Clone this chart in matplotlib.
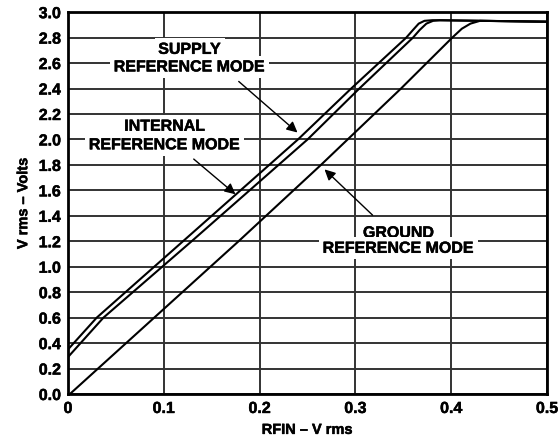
import numpy as np
import matplotlib.pyplot as plt
import matplotlib.patheffects as pe

plt.rcParams['font.family'] = ['Liberation Sans', 'DejaVu Sans']
plt.rcParams['font.weight'] = 'bold'

# curves (RFIN in V rms, output in V rms)
supply_x = [0, 0.030, 0.120, 0.240, 0.2955, 0.353, 0.360, 0.366, 0.372, 0.380, 0.5]
supply_y = [0.35, 0.60, 1.20, 2.00, 2.40, 2.80, 2.86, 2.91, 2.932, 2.937, 2.925]
internal_x = [0, 0.037, 0.129, 0.250, 0.304, 0.360, 0.367, 0.374, 0.381, 0.388, 0.5]
internal_y = [0.29, 0.60, 1.20, 2.00, 2.40, 2.80, 2.86, 2.91, 2.932, 2.937, 2.925]
ground_x = [0.002, 0.090, 0.178, 0.264, 0.3475, 0.401, 0.411, 0.420, 0.430, 0.5]
ground_y = [0, 0.60, 1.20, 1.80, 2.40, 2.80, 2.87, 2.91, 2.932, 2.925]

# label lines: (text, x, y)
label_lines = [
    ('SUPPLY', 0.127, 2.708), ('REFERENCE MODE', 0.127, 2.570),
    ('INTERNAL', 0.101, 2.104), ('REFERENCE MODE', 0.101, 1.958),
    ('GROUND', 0.345, 1.266), ('REFERENCE MODE', 0.345, 1.145),
]
# arrows: (head, tail)
arrows = [
    ((0.2417, 2.04), (0.176, 2.47)),
    ((0.177, 1.555), (0.129, 1.86)),
    ((0.2656, 1.78), (0.320, 1.39)),
]

fig = plt.figure(figsize=(5.6, 4.39), dpi=100)
ax = fig.add_axes([0.1214, 0.1002, 0.8556, 0.8698])

for xs, ys in [(supply_x, supply_y), (internal_x, internal_y), (ground_x, ground_y)]:
    ax.plot(xs, ys, color='black', lw=1.5, zorder=3, solid_joinstyle='round')

ax.set_xlim(0, 0.5)
ax.set_ylim(0, 3.0)
ax.set_xticks(np.arange(0, 0.51, 0.1))
ax.set_xticklabels(['0', '0.1', '0.2', '0.3', '0.4', '0.5'])
ax.set_yticks(np.arange(0, 3.01, 0.2))
ax.set_yticklabels(['%.1f' % v for v in np.arange(0, 3.01, 0.2)])
ax.tick_params(length=0, labelsize=11.5, pad=5)
ax.grid(True, color='#333333', lw=1.4, zorder=1)
ax.set_axisbelow(True)
for s in ax.spines.values():
    s.set_linewidth(2)

# the scanned text is a bit heavier than plain bold
thick = [pe.withStroke(linewidth=0.35, foreground='black')]
for t in ax.get_xticklabels() + ax.get_yticklabels():
    t.set_path_effects(thick)

ax.set_xlabel('RFIN – V rms', fontsize=10.5, fontweight='bold', labelpad=5,
              path_effects=thick)
ax.set_ylabel('V rms – Volts', fontsize=10.5, fontweight='bold', labelpad=6,
              path_effects=thick)

for txt, x, y in label_lines:
    ax.text(x, y, txt, ha='center', va='center', fontsize=11.5,
            fontweight='bold', zorder=4, path_effects=thick,
            bbox=dict(facecolor='white', edgecolor='none', pad=2.5))
for head, tail in arrows:
    ax.annotate('', xy=head, xytext=tail, zorder=4,
                arrowprops=dict(arrowstyle='-|>', color='black', lw=1,
                                mutation_scale=16))

fig.savefig('out.png', dpi=100)
